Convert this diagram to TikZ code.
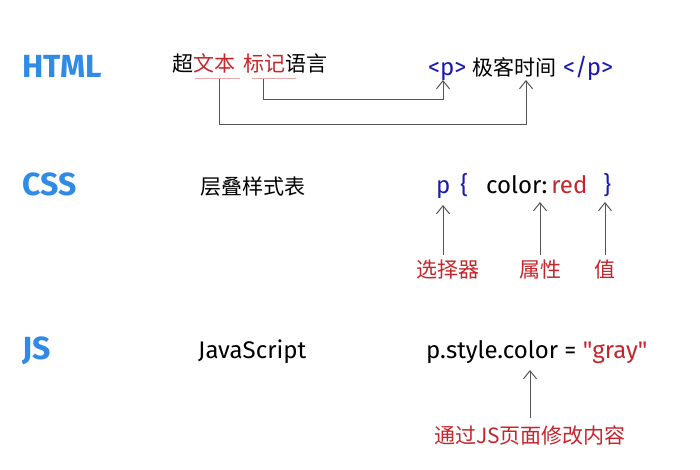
\documentclass[tikz,border=0pt]{standalone}
\usepackage{fontspec}
\setmainfont{Fira Sans}
\newfontfamily\cjk{Noto Sans CJK SC}
\usetikzlibrary{arrows.meta}
\definecolor{hblue}{HTML}{2F8BE6}
\definecolor{cblue}{HTML}{1A1AB0}
\definecolor{cred}{HTML}{C4262B}
\definecolor{agray}{HTML}{555555}
\tikzset{
 head/.style={font=\fontsize{32}{34}\selectfont\bfseries, text=hblue, anchor=west, inner sep=0},
 txt/.style={font=\fontsize{24}{26}\selectfont, anchor=west, inner sep=0},
 cn/.style={font=\cjk\fontsize{21}{23}\selectfont, inner sep=0},
 arr/.style={draw=agray, line width=1pt, -{Straight Barb[length=8pt,width=13pt]}},
 ln/.style={draw=agray, line width=0.9pt}
}
\begin{document}
\begin{tikzpicture}[x=1pt,y=-1pt]
\useasboundingbox (0,0) rectangle (700,470);
\fill[white] (0,0) rectangle (700,470);
\node[head] (h1) at (22,66) {HTML};
\node[head] (h2) at (22,184) {CSS};
\node[head] (h3) at (22,351) {JS};
% HTML row
\node[cn,anchor=west] (ht) at (172,63) {超\textcolor{cred}{文本}\hspace{8pt}\textcolor{cred}{标记}语言};
\coordinate (u1) at (219,79);
\coordinate (u2) at (263,79);
\draw[cred!40,line width=0.8pt] (195,78) -- (240,78) (252,78) -- (296,78);
\node[txt] (pp) at (428,68) {\textcolor{cblue}{<p>} {\cjk\fontsize{21}{23}\selectfont 极客时间} \textcolor{cblue}{</p>}};
\coordinate (a1) at (443,80);
\coordinate (a2) at (526,80);
\draw[arr] (u2) -- (263,100) -- (443,100) -- (a1);
\draw[arr] (u1) -- (219,125) -- (526,125) -- (a2);
% CSS row
\node[cn,anchor=west] (cc) at (200,187) {层叠样式表};
\node[txt] (cs) at (436,186) {\textcolor{cblue}{p\hspace{10pt}\{}\hspace{18pt}color:\,\textcolor{cred}{red}\hspace{16pt}\textcolor{cblue}{\}}};
\node[cn,text=cred] (l1) at (448,270) {选择器};
\node[cn,text=cred] (l2) at (540,270) {属性};
\node[cn,text=cred] (l3) at (605,270) {值};
\draw[arr] (443,255) -- (443,205);
\draw[arr] (540,255) -- (540,202);
\draw[arr] (605,255) -- (605,202);
% JS row
\node[txt] (jj) at (198,352) {JavaScript};
\node[txt] (js) at (426,352) {p.style.color = \textcolor{cred}{\textquotedbl gray\textquotedbl}};
\node[cn,text=cred] (l4) at (530,435) {通过JS页面修改内容};
\draw[arr] (530,418) -- (530,370);
\end{tikzpicture}
\end{document}
